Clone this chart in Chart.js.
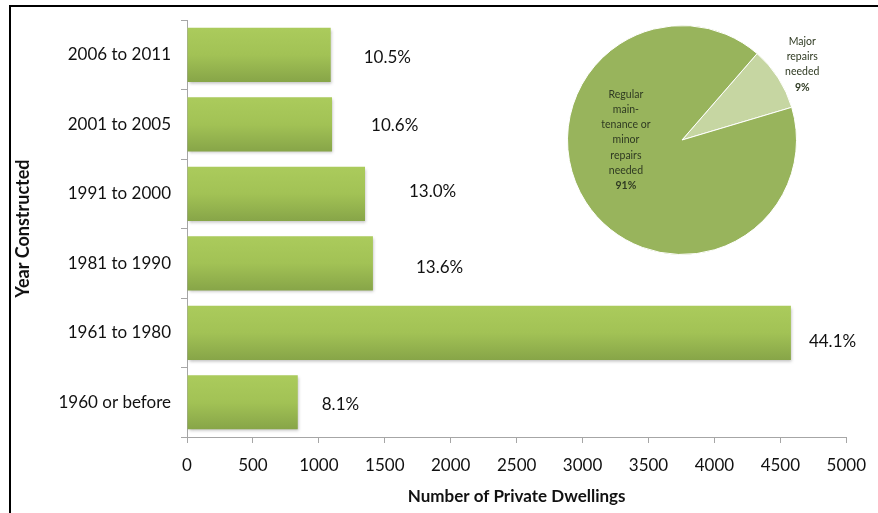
<!DOCTYPE html>
<html>
<head>
<meta charset="utf-8">
<script src="https://cdn.jsdelivr.net/npm/chart.js@4"></script>
<style>
  body { margin: 0; background: #fff; }
  #wrap { position: relative; width: 878px; height: 513px; overflow: hidden; }
  #frame { position: absolute; left: 9px; top: 5px; width: 900px; height: 600px;
           border-left: 2px solid #000; border-top: 2px solid #000; }
  #barChart { position: absolute; left: 0; top: 0; }
  #pieChart { position: absolute; left: 560px; top: 20px; }
</style>
</head>
<body>
<div id="wrap">
  <div id="frame"></div>
  <canvas id="barChart" width="878" height="513"></canvas>
  <canvas id="pieChart" width="270" height="245"></canvas>
</div>
<script>
var categories = ['2006 to 2011', '2001 to 2005', '1991 to 2000', '1981 to 1990', '1961 to 1980', '1960 or before'];
var dwellings = [1090, 1100, 1350, 1410, 4580, 840];
var shareLabels = ['10.5%', '10.6%', '13.0%', '13.6%', '44.1%', '8.1%'];
var xTicks = [0, 500, 1000, 1500, 2000, 2500, 3000, 3500, 4000, 4500, 5000];

var repairLabels = ['Major repairs needed', 'Regular maintenance or minor repairs needed'];
var repairShares = [9, 91];

var FONT = 'Lato, "Open Sans", sans-serif';

function barFill(ctx) {
    var chart = ctx.chart;
    var yScale = chart.scales.y;
    if (!chart.chartArea || !yScale || ctx.dataIndex === undefined) return '#9dbd52';
    var yc = yScale.getPixelForValue(ctx.dataIndex);
    var half = (yScale.height / categories.length) * 0.78 / 2;
    var g = chart.ctx.createLinearGradient(0, yc - half, 0, yc + half);
    g.addColorStop(0, '#abcb5c');
    g.addColorStop(0.5, '#a2c255');
    g.addColorStop(1, '#87a548');
    return g;
}

// percentages written to the right of each bar
var shareLabelPlugin = {
    id: 'shareLabels',
    afterDatasetsDraw: function (chart, args, opts) {
        var c = chart.ctx;
        var meta = chart.getDatasetMeta(0);
        c.save();
        c.font = '17px ' + FONT;
        c.fillStyle = '#111';
        c.textBaseline = 'middle';
        meta.data.forEach(function (bar, i) {
            c.fillText(shareLabels[i], bar.x + opts.gaps[i], bar.y + opts.shift[i]);
        });
        c.restore();
    }
};

var barShadow = {
    id: 'barShadow',
    beforeDatasetsDraw: function (chart) {
        var c = chart.ctx;
        c.save();
        c.shadowColor = 'rgba(0,0,0,0.25)';
        c.shadowBlur = 3;
        c.shadowOffsetX = 1;
        c.shadowOffsetY = 2;
    },
    afterDatasetsDraw: function (chart) {
        chart.ctx.restore();
    }
};

new Chart('barChart', {
    type: 'bar',
    data: {
        labels: categories,
        datasets: [{
            data: dwellings,
            backgroundColor: barFill,
            barPercentage: 0.78,
            categoryPercentage: 1
        }]
    },
    options: {
        indexAxis: 'y',
        responsive: false,
        animation: false,
        layout: { padding: { left: 12, right: 27, top: 19, bottom: 6 } },
        plugins: {
            legend: { display: false },
            tooltip: { enabled: false },
            shareLabels: { gaps: [33, 39, 44, 43, 18, 24], shift: [3, 1, -2, 4, 9, 2] }
        },
        scales: {
            x: {
                min: 0,
                max: 5000,
                afterBuildTicks: function (scale) {
                    scale.ticks = xTicks.map(function (v) { return { value: v }; });
                },
                grid: { drawOnChartArea: false, color: '#a6a6a6', tickLength: 6 },
                border: { color: '#a6a6a6' },
                ticks: { color: '#111', font: { family: FONT, size: 17 }, padding: 12, maxRotation: 0,
                         callback: function (v) { return String(v); } },
                title: { display: true, text: 'Number of Private Dwellings', color: '#111',
                         font: { family: FONT, size: 17, weight: 'bold' }, padding: { top: 6, bottom: 0 } },
                afterFit: function (scale) { scale.height = 70; }
            },
            y: {
                grid: { drawOnChartArea: false, offset: true, color: '#a6a6a6', tickLength: 6 },
                border: { color: '#a6a6a6' },
                ticks: { color: '#111', font: { family: FONT, size: 17 }, padding: 10 },
                title: { display: true, text: 'Year Constructed', color: '#111',
                         font: { family: FONT, size: 18, weight: 'bold' }, padding: { top: 0, bottom: 0 } },
                afterFit: function (scale) { scale.width = 175; }
            }
        }
    },
    plugins: [barShadow, shareLabelPlugin]
});

// text inside / beside the pie
var pieTextPlugin = {
    id: 'pieText',
    afterDatasetsDraw: function (chart) {
        var arc = chart.getDatasetMeta(0).data[0];
        var cx = arc.x, cy = arc.y, r = arc.outerRadius;
        var c = chart.ctx;
        function block(lines, x, y) {
            var lh = 15.2;
            var y0 = y - (lines.length - 1) * lh / 2;
            lines.forEach(function (t, i) {
                var last = i === lines.length - 1;
                c.font = (last ? 'bold ' : '') + '10.5px ' + FONT;
                c.fillText(t, x, y0 + i * lh);
            });
        }
        c.save();
        c.fillStyle = '#2f3a22';
        c.textAlign = 'center';
        c.textBaseline = 'middle';
        block(['Regular', 'main-', 'tenance or', 'minor', 'repairs', 'needed', repairShares[1] + '%'], cx - 0.49 * r, cy);
        block(['Major', 'repairs', 'needed', repairShares[0] + '%'], cx + 1.05 * r, cy - 0.66 * r);
        c.restore();
    }
};

new Chart('pieChart', {
    type: 'pie',
    data: {
        labels: repairLabels,
        datasets: [{
            data: repairShares,
            backgroundColor: ['#c6d6a2', '#98b45c'],
            borderColor: '#ffffff',
            borderWidth: 1
        }]
    },
    options: {
        responsive: false,
        animation: false,
        rotation: 41,
        layout: { padding: { left: 7, top: 5, right: 33, bottom: 10 } },
        plugins: { legend: { display: false }, tooltip: { enabled: false } }
    },
    plugins: [pieTextPlugin]
});
</script>
</body>
</html>
